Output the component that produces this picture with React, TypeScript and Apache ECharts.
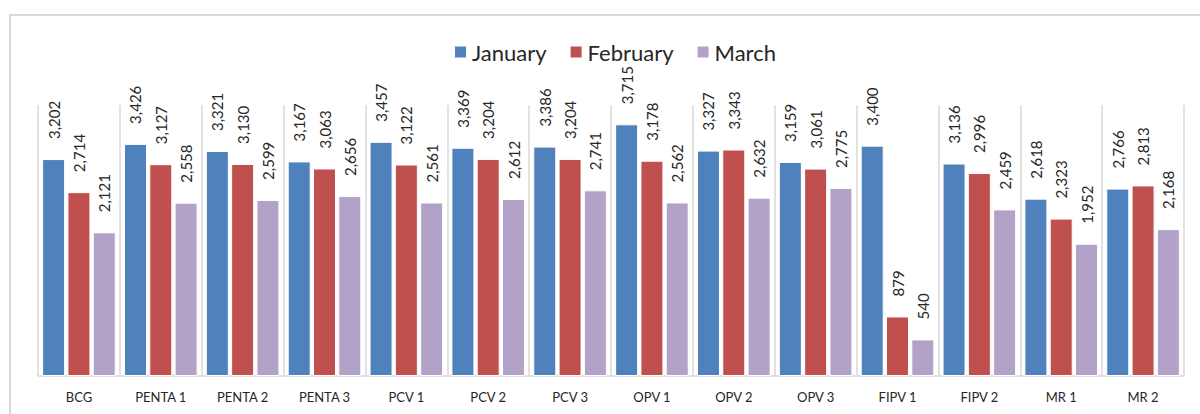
import React, { useEffect, useRef } from "react";
import * as echarts from "echarts";

const categories = ["BCG", "PENTA 1", "PENTA 2", "PENTA 3", "PCV 1", "PCV 2", "PCV 3", "OPV 1", "OPV 2", "OPV 3", "FIPV 1", "FIPV 2", "MR 1", "MR 2"];
const january = [3202, 3426, 3321, 3167, 3457, 3369, 3386, 3715, 3327, 3159, 3400, 3136, 2618, 2766];
const february = [2714, 3127, 3130, 3063, 3122, 3204, 3204, 3178, 3343, 3061, 879, 2996, 2323, 2813];
const march = [2121, 2558, 2599, 2656, 2561, 2612, 2741, 2562, 2632, 2775, 540, 2459, 1952, 2168];

const seriesNames = ["January", "February", "March"];
const seriesData = [january, february, march];
const colors = ["#4F81BD", "#C0504D", "#B3A2C7"];

const FONT = "Lato, 'Open Sans', sans-serif";

export default function App() {
  const ref = useRef<HTMLDivElement>(null);
  useEffect(() => {
    if (!ref.current) return;
    const chart = echarts.init(ref.current, undefined, { renderer: "svg" });
    chart.setOption({
      animation: false,
      backgroundColor: "#ffffff",
      graphic: [
        {
          type: "rect",
          shape: { x: 10, y: 15, width: 1220, height: 430 },
          style: { fill: "none", stroke: "#d9d9d9", lineWidth: 2 },
          silent: true,
          z: -10,
        },
      ],
      legend: {
        top: 41,
        left: 453,
        padding: 0,
        itemWidth: 13,
        itemHeight: 13,
        itemGap: 22,
        icon: "rect",
        textStyle: { fontFamily: FONT, fontSize: 22, color: "#262626" },
        data: seriesNames,
      },
      grid: { left: 38, right: 16, top: 105, bottom: 38, containLabel: false },
      xAxis: {
        type: "category",
        data: categories,
        axisLine: { show: true, lineStyle: { color: "#d9d9d9", width: 1.5 } },
        axisTick: { show: false },
        splitLine: { show: true, lineStyle: { color: "#d9d9d9", width: 1.5 } },
        axisLabel: { fontFamily: FONT, fontSize: 13, color: "#262626", margin: 14 },
      },
      yAxis: {
        type: "value",
        min: 0,
        max: 4000,
        show: false,
        splitLine: { show: false },
      },
      series: seriesNames.map((name, i) => ({
        name,
        type: "bar",
        data: seriesData[i],
        barWidth: 23,
        barGap: "10%",
        itemStyle: { color: colors[i], borderColor: "#ffffff", borderWidth: 1 },
        label: {
          show: true,
          position: "top",
          rotate: 90,
          align: "left",
          verticalAlign: "middle",
          distance: 18,
          offset: [2, 0],
          fontFamily: FONT,
          fontSize: 15,
          color: "#262626",
          formatter: (p: any) => Number(p.value).toLocaleString("en-US"),
        },
      })),
    });
    return () => chart.dispose();
  }, []);
  return <div ref={ref} style={{ position: "absolute", left: 0, top: 0, width: 1200, height: 414 }} />;
}
